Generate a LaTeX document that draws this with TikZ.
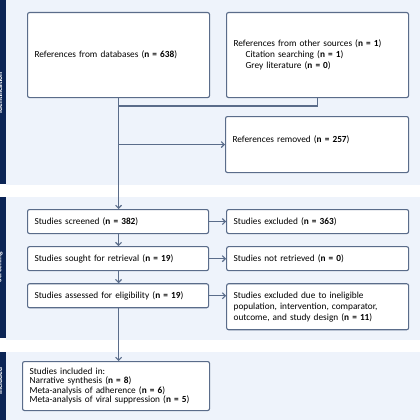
\documentclass[tikz,border=0pt]{standalone}
\usepackage{fontspec}
\setmainfont{Carlito}
\usetikzlibrary{arrows.meta,positioning}
\definecolor{navybar}{HTML}{0B2455}
\definecolor{panelbg}{HTML}{EEF3FB}
\definecolor{boxline}{HTML}{5A6C8A}

\begin{document}
\begin{tikzpicture}[x=1pt, y=-1pt,
  node distance=12pt and 17pt,
  box/.style={draw=boxline, line width=1.1pt, rounded corners=2pt, align=left,
              font=\fontsize{9.3}{11}\selectfont, inner xsep=7pt, inner ysep=2pt,
              anchor=north west, fill=#1},
  box/.default=white,
  arr/.style={-{Straight Barb[length=3pt,width=6pt]}, draw=boxline, line width=1.1pt},
  lnk/.style={draw=boxline, line width=1.1pt},
  phase/.style={rotate=90, text=white, font=\fontsize{7.5}{8}\selectfont\bfseries}]
\useasboundingbox (0,0) rectangle (420,420);
% phase panels
\fill[panelbg] (6,0) rectangle (420,185);
\fill[panelbg] (6,197) rectangle (420,340);
\fill[panelbg] (6,352) rectangle (420,425);
\fill[navybar] (-10,0) rectangle (5.5,184);
\fill[navybar] (-10,197) rectangle (5.5,338);
\fill[navybar] (-10,352) rectangle (5.5,425);
\node[phase] (idlab) at (-0.5,93) {Identification};
\node[phase] (sclab) at (-0.5,267) {Screening};
\node[phase] (inlab) at (-0.5,381) {Included};
% identification
\node[box, text width=168pt, minimum height=85pt] (db) at (27,12)
  {References from databases (\textbf{n = 638})};
\node[box, text width=168pt, minimum height=85pt] (other) at (226,12)
  {References from other sources (\textbf{n = 1})\\
   \hspace*{12pt}Citation searching (\textbf{n = 1})\\
   \hspace*{12pt}Grey literature (\textbf{n = 0})};
\node[box, text width=169pt, minimum height=56pt] (removed) at (225,116)
  {References removed (\textbf{n = 257})\\\mbox{}};
% screening
\node[box, text width=167pt, minimum height=24pt] (screened) at (27,209)
  {Studies screened (\textbf{n = 382})};
\node[box, text width=168pt, minimum height=24pt, right=of screened.north east, anchor=north west] (excl)
  {Studies excluded (\textbf{n = 363})};
\node[box, text width=167pt, minimum height=24pt, below=of screened.south west, anchor=north west] (sought)
  {Studies sought for retrieval (\textbf{n = 19})};
\node[box, text width=168pt, minimum height=24pt, right=of sought.north east, anchor=north west] (notret)
  {Studies not retrieved (\textbf{n = 0})};
\node[box, text width=167pt, minimum height=24pt, below=of sought.south west, anchor=north west] (assessed)
  {Studies assessed for eligibility (\textbf{n = 19})};
\node[box, text width=168pt, minimum height=46pt, right=of assessed.north east, anchor=north west] (exclelig)
  {Studies excluded due to ineligible\\population, intervention, comparator,\\outcome, and study design (\textbf{n = 11})};
% included
\node[box, text width=173pt, minimum height=49pt, font=\fontsize{9.3}{9.6}\selectfont] (incl) at (22,361)
  {Studies included in:\\Narrative synthesis (\textbf{n = 8})\\Meta-analysis of adherence (\textbf{n = 6})\\Meta-analysis of viral suppression (\textbf{n = 5})};
% connectors
\coordinate (join) at (db.south |- 0,106);
\coordinate (split) at (db.south |- removed.west);
\draw[lnk] (other.south) |- (join);
\draw[arr] (db.south) -- (db.south |- screened.north);
\draw[arr] (split) -- (removed.west);
\draw[arr] (screened) -- (excl);
\draw[arr] (sought) -- (notret);
\draw[arr] (assessed) -- (assessed -| exclelig.west);
\draw[arr] (screened.south -| db.south) -- (sought.north -| db.south);
\draw[arr] (sought.south -| db.south) -- (assessed.north -| db.south);
\draw[arr] (assessed.south -| db.south) -- (incl.north -| db.south);
\end{tikzpicture}
\end{document}
